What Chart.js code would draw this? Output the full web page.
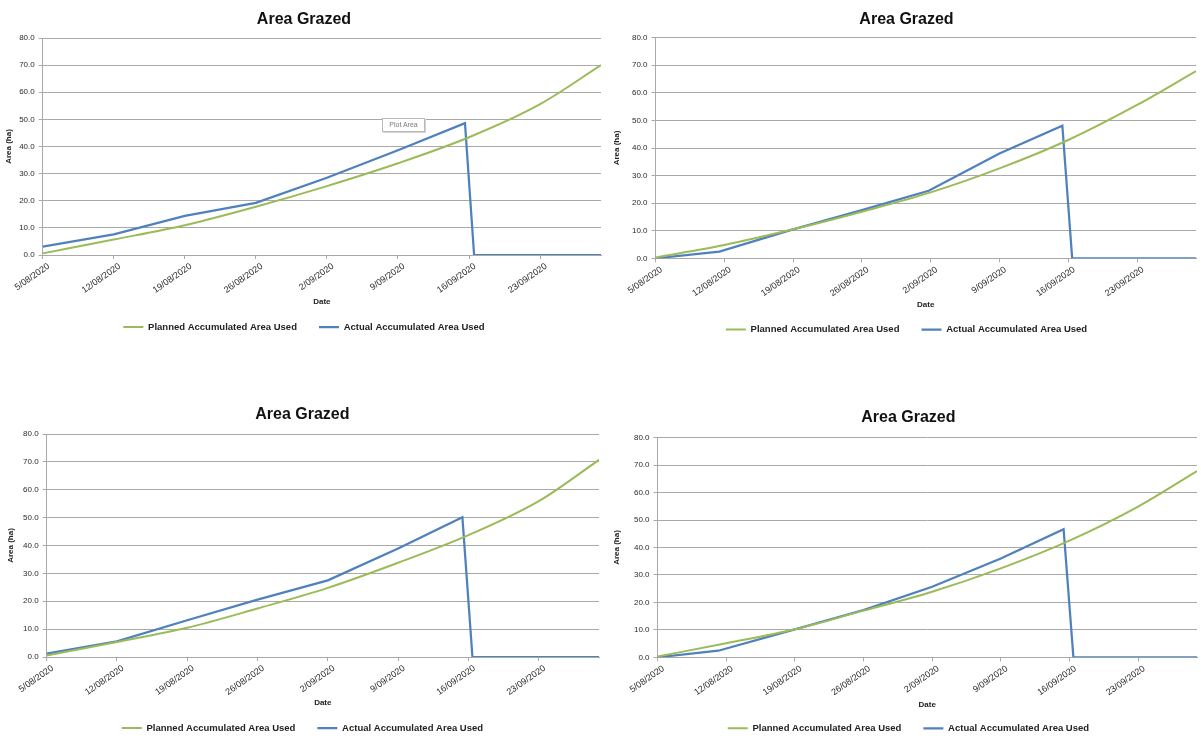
<!DOCTYPE html>
<html>
<head>
<meta charset="utf-8">
<title>Area Grazed</title>
<script src="https://cdn.jsdelivr.net/npm/chart.js@4/dist/chart.umd.min.js"></script>
<style>
  html, body { margin: 0; padding: 0; background: #ffffff; }
  body { position: relative; width: 1201px; height: 736px; overflow: hidden; }
  canvas { position: absolute; }
  .plot-area-tip {
    position: absolute; left: 382px; top: 118px; width: 41px; height: 12px;
    border: 1px solid #b9b9b9; background: #ffffff; box-shadow: 1px 1px 0 #d4d4d4;
    font: 7px 'Liberation Sans', Arial, sans-serif; color: #7a7a7a;
    line-height: 12px; text-align: center;
  }
</style>
</head>
<body>
<canvas id="graze1"></canvas>
<canvas id="graze2"></canvas>
<canvas id="graze3"></canvas>
<canvas id="graze4"></canvas>
<div class="plot-area-tip">Plot Area</div>
<script>
// ---- data -------------------------------------------------------------
const tickLabels = ['5/08/2020', '12/08/2020', '19/08/2020', '26/08/2020',
                    '2/09/2020', '9/09/2020', '16/09/2020', '23/09/2020'];
const lastDay = 55;                       // days after 5/08/2020 shown on the axis

// planned accumulated area (ha), sampled weekly from 5/08/2020
const plannedDays = [0, 7, 14, 21, 28, 35, 42, 49, 55];
const planned1 = [0.6, 5.7, 11.0, 17.8, 25.4, 33.8, 43.4, 55.6, 70.0];
const planned2 = [0.3, 4.8, 10.5, 16.9, 23.9, 32.6, 42.9, 55.6, 67.9];
const planned3 = [0.5, 5.4, 10.5, 17.4, 24.8, 33.8, 43.7, 55.9, 70.7];
const planned4 = [0.3, 5.1, 10.2, 17.0, 23.9, 32.4, 42.5, 54.9, 67.8];

// actual accumulated area (ha)
const actualDays1 = [0, 7, 14, 17.5, 21, 28, 35, 41.6, 42.5, 55];
const actual1     = [3.1, 7.6, 14.4, 16.8, 19.2, 28.5, 38.6, 48.6, 0, 0];
const actualDays2 = [0, 6.5, 14, 21, 27.8, 35, 41.4, 42.4, 55];
const actual2     = [0, 2.4, 10.5, 17.5, 24.5, 38.0, 48.1, 0, 0];
const actualDays3 = [0, 7, 14, 21, 28, 35, 41.4, 42.4, 55];
const actual3     = [1.2, 5.6, 13.2, 20.6, 27.5, 38.9, 50.1, 0, 0];
const actualDays4 = [0, 6.2, 14, 21, 28, 35, 41.4, 42.4, 55];
const actual4     = [0, 2.4, 10.2, 17.2, 25.7, 36.0, 46.7, 0, 0];

// ---- helpers ----------------------------------------------------------
function dayOffset(label) {
  const [d, m, y] = label.split('/').map(Number);
  const [d0, m0, y0] = tickLabels[0].split('/').map(Number);
  return Math.round((Date.UTC(y, m - 1, d) - Date.UTC(y0, m0 - 1, d0)) / 86400000);
}
const tickDays = tickLabels.map(dayOffset);
const toPoints = (xs, ys) => xs.map((x, i) => ({ x, y: ys[i] }));

// ---- look -------------------------------------------------------------
Chart.defaults.font.family = "'Liberation Sans', Arial, Helvetica, sans-serif";
Chart.defaults.color = '#222222';
const GREEN = '#9bbb59';
const BLUE = '#4f81bd';
const GRID = '#a9a9a9';
const TITLE_FONT = 16, AXIS_TITLE_FONT = 8, LEGEND_FONT = 9.5, LEGEND_PAD = 22;

// page geometry of each panel (canvas corner, title centre, plot box, label rows)
const panels = [
  { id: 'graze1', left: 0,   top: 0,   width: 605, titleX: 304,   titleY: 19.5, plotTop: 38,    plotBottom: 255,   plotLeft: 42.7,  plotRight: 601,  dateY: 302,   legendY: 327,   yTitleX: 9,
    planned: planned1, actualDays: actualDays1, actual: actual1 },
  { id: 'graze2', left: 606, top: 0,   width: 595, titleX: 906.5, titleY: 19.5, plotTop: 37.7,  plotBottom: 258.3, plotLeft: 655.5, plotRight: 1196, dateY: 305,   legendY: 329.5, yTitleX: 617,
    planned: planned2, actualDays: actualDays2, actual: actual2 },
  { id: 'graze3', left: 0,   top: 395, width: 605, titleX: 302.4, titleY: 414.5, plotTop: 434,  plotBottom: 657,   plotLeft: 46.6,  plotRight: 599,  dateY: 703,   legendY: 728,   yTitleX: 11,
    planned: planned3, actualDays: actualDays3, actual: actual3 },
  { id: 'graze4', left: 606, top: 395, width: 595, titleX: 908.4, titleY: 418, plotTop: 437.7,  plotBottom: 657.3, plotLeft: 657.5, plotRight: 1197, dateY: 704.3, legendY: 728.3, yTitleX: 617,
    planned: planned4, actualDays: actualDays4, actual: actual4 }
];

function buildChart(p) {
  const titleLine = TITLE_FONT * 1.2;
  const axisLine = AXIS_TITLE_FONT * 1.2;
  const padLeft = 2 * (p.titleX - p.left) - (p.plotRight - p.left);
  const padRight = p.left + p.width - p.plotRight;
  const legendTop = p.legendY - LEGEND_PAD - LEGEND_FONT / 2;
  const legendBottom = legendTop + LEGEND_FONT + LEGEND_PAD + 10;
  const height = Math.ceil(legendBottom - p.top) + 2;
  const yAxisWidth = p.plotLeft - p.left - padLeft;
  const xAxisHeight = legendTop - p.plotBottom;

  const canvas = document.getElementById(p.id);
  canvas.width = p.width;
  canvas.height = height;
  canvas.style.left = p.left + 'px';
  canvas.style.top = p.top + 'px';

  return new Chart(canvas, {
    type: 'line',
    data: {
      datasets: [
        {
          label: 'Planned Accumulated Area Used',
          data: toPoints(plannedDays, p.planned),
          borderColor: GREEN, backgroundColor: GREEN,
          borderWidth: 2, pointRadius: 0, cubicInterpolationMode: 'monotone'
        },
        {
          label: 'Actual Accumulated Area Used',
          data: toPoints(p.actualDays, p.actual),
          borderColor: BLUE, backgroundColor: BLUE,
          borderWidth: 2.25, pointRadius: 0, tension: 0
        }
      ]
    },
    options: {
      responsive: false,
      animation: false,
      events: [],
      layout: { padding: { top: 0, left: padLeft, right: padRight, bottom: height - (legendBottom - p.top) } },
      plugins: {
        title: {
          display: true, text: 'Area Grazed', color: '#111111',
          font: { size: TITLE_FONT, weight: 'bold' },
          padding: { top: p.titleY - p.top - titleLine / 2, bottom: p.plotTop - p.titleY - titleLine / 2 }
        },
        legend: {
          position: 'bottom',
          labels: {
            usePointStyle: true, pointStyle: 'line', pointStyleWidth: 20,
            padding: LEGEND_PAD, color: '#222222',
            font: { size: LEGEND_FONT, weight: 'bold' }
          }
        },
        tooltip: { enabled: false }
      },
      scales: {
        x: {
          type: 'linear', min: 0, max: lastDay,
          afterBuildTicks: s => { s.ticks = tickDays.map(v => ({ value: v })); },
          afterFit: s => { s.height = xAxisHeight; },
          ticks: {
            autoSkip: false, minRotation: 35, maxRotation: 35,
            padding: 2, labelOffset: 6, color: '#2a2a2a', font: { size: 9 },
            callback: v => tickLabels[tickDays.indexOf(v)]
          },
          grid: { drawOnChartArea: false, drawTicks: true, tickLength: 4, color: GRID },
          border: { display: true, color: GRID, width: 1 },
          title: {
            display: true, text: 'Date', color: '#222222',
            font: { size: AXIS_TITLE_FONT, weight: 'bold' },
            padding: { top: 0, bottom: legendTop - p.dateY - axisLine / 2 }
          }
        },
        y: {
          min: 0, max: 80,
          afterFit: s => { s.width = yAxisWidth; },
          ticks: {
            stepSize: 10, padding: 4, color: '#2a2a2a', font: { size: 8 },
            callback: v => Number(v).toFixed(1)
          },
          grid: { color: GRID, lineWidth: 1, tickLength: 4 },
          border: { display: true, color: GRID, width: 1 },
          title: {
            display: true, text: 'Area (ha)', color: '#222222',
            font: { size: AXIS_TITLE_FONT, weight: 'bold' },
            padding: { top: p.yTitleX - p.left - padLeft - axisLine / 2, bottom: 0 }
          }
        }
      }
    }
  });
}

panels.forEach(buildChart);
</script>
</body>
</html>
